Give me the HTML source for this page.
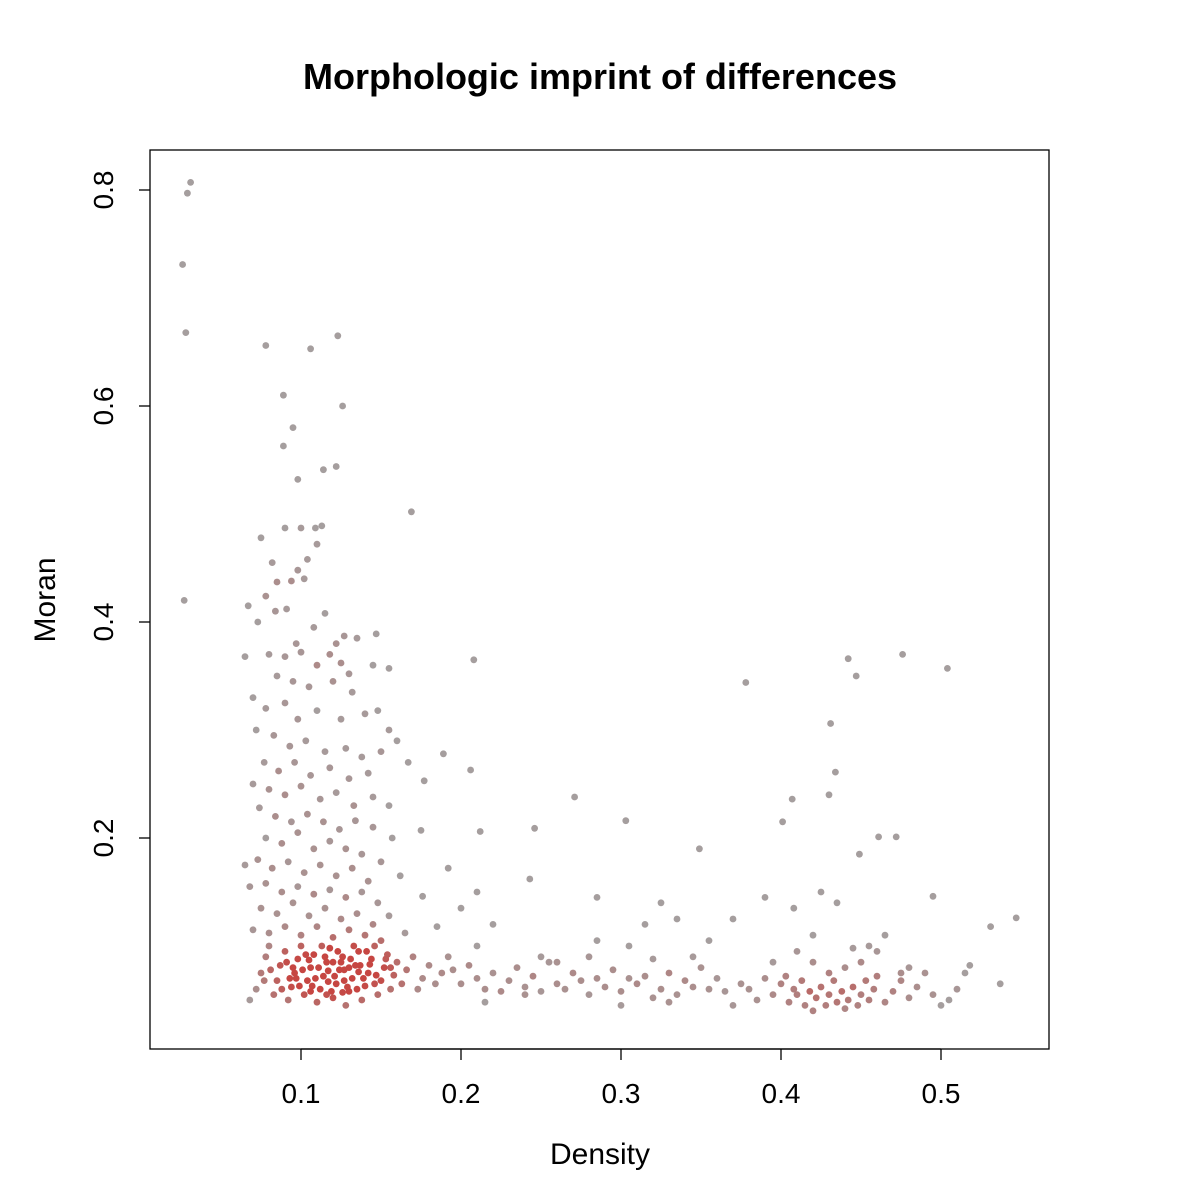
<!DOCTYPE html>
<html><head><meta charset="utf-8"><style>
html,body{margin:0;padding:0;background:#fff;}
svg{display:block;font-family:"Liberation Sans",Arial,sans-serif;}
</style></head><body>
<svg id="chart" width="1200" height="1200" viewBox="0 0 1200 1200">
<rect x="0" y="0" width="1200" height="1200" fill="#fff"/>
<text x="600" y="89" text-anchor="middle" font-size="36" font-weight="bold">Morphologic imprint of differences</text>
<rect x="150" y="150" width="899" height="899" fill="none" stroke="#000" stroke-width="1.3"/>
<g id="xaxis"></g>
<g id="yaxis"></g>
<g id="points"></g>
<text x="600" y="1164" text-anchor="middle" font-size="30">Density</text>
<text transform="translate(55,600) rotate(-90)" text-anchor="middle" font-size="30">Moran</text>
</svg>
<script>
const xTicks = [0.1,0.2,0.3,0.4,0.5];
const xTickLabels = ["0.1","0.2","0.3","0.4","0.5"];
const yTicks = [0.2,0.4,0.6,0.8];
const yTickLabels = ["0.2","0.4","0.6","0.8"];
const outliers = [0.031,0.807,0.029,0.797,0.026,0.731,0.028,0.668,0.027,0.42,0.078,0.656,0.106,0.653,0.123,0.665,0.126,0.6,0.089,0.61,0.095,0.58,0.089,0.563,0.114,0.541,0.122,0.544,0.098,0.532,0.169,0.502,0.208,0.365,0.378,0.344,0.442,0.366,0.476,0.37,0.504,0.357,0.447,0.35,0.431,0.306,0.434,0.261,0.43,0.24,0.407,0.236,0.401,0.215,0.461,0.201,0.472,0.201,0.449,0.185,0.271,0.238,0.303,0.216,0.246,0.209,0.212,0.206,0.349,0.19,0.243,0.162,0.206,0.263,0.189,0.278,0.177,0.253,0.495,0.146,0.531,0.118,0.547,0.126];
const column = [0.075,0.478,0.082,0.455,0.09,0.487,0.1,0.487,0.109,0.487,0.113,0.489,0.11,0.472,0.104,0.458,0.098,0.448,0.094,0.438,0.102,0.44,0.085,0.437,0.078,0.424,0.091,0.412,0.084,0.41,0.067,0.415,0.073,0.4,0.115,0.408,0.108,0.395,0.122,0.38,0.127,0.387,0.135,0.385,0.147,0.389,0.097,0.38,0.09,0.368,0.1,0.372,0.08,0.37,0.065,0.368,0.11,0.36,0.118,0.37,0.125,0.362,0.13,0.352,0.145,0.36,0.155,0.357,0.085,0.35,0.095,0.345,0.105,0.34,0.12,0.345,0.132,0.335,0.07,0.33,0.078,0.32,0.09,0.325,0.098,0.31,0.11,0.318,0.125,0.31,0.14,0.315,0.148,0.318,0.155,0.3,0.16,0.29,0.072,0.3,0.083,0.295,0.093,0.285,0.103,0.29,0.115,0.28,0.128,0.283,0.138,0.275,0.15,0.28,0.077,0.27,0.086,0.262,0.096,0.27,0.106,0.258,0.118,0.265,0.13,0.255,0.142,0.26,0.167,0.27,0.07,0.25,0.08,0.245,0.09,0.24,0.1,0.248,0.112,0.236,0.122,0.242,0.133,0.23,0.145,0.238,0.155,0.23,0.175,0.207,0.074,0.228,0.084,0.22,0.094,0.215,0.104,0.222,0.114,0.215,0.124,0.208,0.134,0.216,0.145,0.21,0.157,0.2,0.078,0.2,0.088,0.195,0.098,0.205,0.108,0.19,0.118,0.197,0.128,0.19,0.138,0.185,0.15,0.178,0.065,0.175,0.073,0.18,0.082,0.172,0.092,0.178,0.102,0.168,0.112,0.175,0.122,0.165,0.132,0.172,0.142,0.16,0.162,0.165,0.068,0.155,0.078,0.158,0.088,0.15,0.098,0.155,0.108,0.148,0.118,0.152,0.128,0.145,0.138,0.15,0.148,0.14,0.176,0.146,0.192,0.172,0.075,0.135,0.085,0.13,0.095,0.14,0.105,0.128,0.115,0.135,0.125,0.125,0.135,0.13,0.145,0.12,0.155,0.128,0.07,0.115,0.08,0.112,0.09,0.118,0.1,0.11,0.11,0.118,0.12,0.108,0.13,0.115,0.14,0.11,0.15,0.105,0.165,0.112,0.2,0.135,0.21,0.15,0.22,0.12,0.185,0.118];
const cluster = [0.068,0.05,0.072,0.06,0.075,0.075,0.078,0.09,0.08,0.1,0.083,0.055,0.085,0.068,0.087,0.082,0.09,0.095,0.092,0.05,0.094,0.062,0.096,0.075,0.098,0.088,0.1,0.1,0.102,0.055,0.104,0.068,0.106,0.08,0.108,0.092,0.11,0.048,0.112,0.06,0.114,0.072,0.116,0.085,0.118,0.098,0.12,0.052,0.122,0.065,0.124,0.078,0.126,0.09,0.128,0.045,0.13,0.058,0.132,0.07,0.134,0.082,0.136,0.095,0.138,0.05,0.14,0.063,0.142,0.075,0.144,0.088,0.146,0.1,0.148,0.055,0.15,0.068,0.152,0.08,0.154,0.092,0.156,0.06,0.158,0.073,0.16,0.085,0.163,0.065,0.166,0.078,0.17,0.09,0.173,0.06,0.176,0.07,0.18,0.082,0.184,0.065,0.188,0.075,0.192,0.09,0.088,0.06,0.097,0.07,0.107,0.063,0.117,0.077,0.127,0.068,0.137,0.082,0.147,0.073,0.105,0.087,0.115,0.09,0.125,0.085,0.135,0.06,0.111,0.08,0.121,0.072,0.131,0.088,0.141,0.095,0.101,0.078,0.091,0.085,0.081,0.078,0.119,0.058,0.129,0.062,0.139,0.07,0.109,0.07,0.099,0.063,0.123,0.095,0.113,0.1,0.133,0.1,0.143,0.083,0.153,0.088,0.093,0.07,0.103,0.092,0.077,0.068,0.117,0.067,0.127,0.078,0.106,0.058,0.116,0.055,0.126,0.057,0.136,0.076,0.146,0.065,0.156,0.08,0.095,0.08,0.12,0.085,0.13,0.08];
const tail = [0.195,0.078,0.2,0.065,0.205,0.082,0.21,0.07,0.215,0.06,0.22,0.075,0.225,0.058,0.23,0.068,0.235,0.08,0.24,0.062,0.245,0.072,0.25,0.058,0.255,0.085,0.26,0.065,0.265,0.06,0.27,0.075,0.275,0.068,0.28,0.055,0.285,0.07,0.29,0.062,0.295,0.078,0.3,0.058,0.305,0.07,0.31,0.065,0.315,0.072,0.32,0.052,0.325,0.06,0.33,0.075,0.335,0.055,0.34,0.068,0.345,0.062,0.35,0.08,0.355,0.06,0.36,0.07,0.365,0.058,0.37,0.045,0.375,0.065,0.21,0.1,0.25,0.09,0.285,0.105,0.305,0.1,0.315,0.12,0.335,0.125,0.355,0.105,0.37,0.125,0.285,0.145,0.325,0.14,0.28,0.09,0.26,0.085,0.32,0.088,0.345,0.09,0.24,0.055,0.215,0.048,0.3,0.045,0.33,0.048];
const rightCluster = [0.38,0.06,0.385,0.05,0.39,0.07,0.395,0.055,0.4,0.065,0.403,0.072,0.405,0.048,0.408,0.06,0.41,0.055,0.413,0.068,0.415,0.045,0.418,0.058,0.42,0.04,0.422,0.052,0.425,0.062,0.428,0.045,0.43,0.055,0.433,0.068,0.435,0.048,0.438,0.058,0.44,0.042,0.442,0.05,0.445,0.062,0.448,0.045,0.45,0.055,0.453,0.068,0.455,0.05,0.458,0.06,0.46,0.072,0.465,0.048,0.47,0.058,0.475,0.068,0.48,0.052,0.485,0.062,0.49,0.075,0.495,0.055,0.5,0.045,0.505,0.05,0.51,0.06,0.515,0.075,0.518,0.082,0.537,0.065,0.41,0.095,0.42,0.085,0.445,0.098,0.46,0.095,0.45,0.085,0.44,0.08,0.43,0.075,0.48,0.08,0.465,0.11,0.475,0.075,0.395,0.085,0.39,0.145,0.425,0.15,0.435,0.14,0.408,0.135,0.42,0.11,0.455,0.1];

const NS = "http://www.w3.org/2000/svg";
function xs(v){ return 141 + v*1600; }
function ys(v){ return 1054 - v*1080; }
function mk(tag, attrs, parent){ const e=document.createElementNS(NS,tag); for(const k in attrs) e.setAttribute(k,attrs[k]); parent.appendChild(e); return e; }

const xa=document.getElementById('xaxis'), ya=document.getElementById('yaxis'), pg=document.getElementById('points');
mk('line',{x1:xs(xTicks[0]),x2:xs(xTicks[xTicks.length-1]),y1:1049,y2:1049,stroke:'#000','stroke-width':1.3},xa);
xTicks.forEach((t,i)=>{
  const l=mk('line',{x1:xs(t),x2:xs(t),y1:1049,y2:1060,stroke:'#000','stroke-width':1.3},xa);
  
  
  const tx=mk('text',{x:xs(t),y:1103,'text-anchor':'middle','font-size':28},xa);
  tx.textContent=xTickLabels[i];
  
  
});
yTicks.forEach((t,i)=>{
  const l=mk('line',{x1:139,x2:150,y1:ys(t),y2:ys(t),stroke:'#000','stroke-width':1.3},ya);
  
  
  const tx=mk('text',{transform:`translate(113,${ys(t)}) rotate(-90)`,'text-anchor':'middle','font-size':28},ya);
  tx.textContent=yTickLabels[i];
  
  
});

const pts=[];
[outliers,column,cluster,tail,rightCluster].forEach(arr=>{ for(let i=0;i<arr.length;i+=2) pts.push([arr[i],arr[i+1]]); });
const px=pts.map(p=>[xs(p[0]),ys(p[1])]);
px.forEach((p,i)=>{
  let c=0;
  px.forEach(q=>{ const dx=p[0]-q[0], dy=p[1]-q[1]; if(dx*dx+dy*dy<900) c++; });
  const t=Math.min(1,Math.max(0,(c-4)/22));
  const r=Math.round(165+(198-165)*t), g=Math.round(158+(70-158)*t), b=Math.round(158+(66-158)*t);
  const el=mk('circle',{cx:p[0].toFixed(1),cy:p[1].toFixed(1),r:3.4,fill:`rgb(${r},${g},${b})`},pg);
  
  
});
</script>
</body></html>
